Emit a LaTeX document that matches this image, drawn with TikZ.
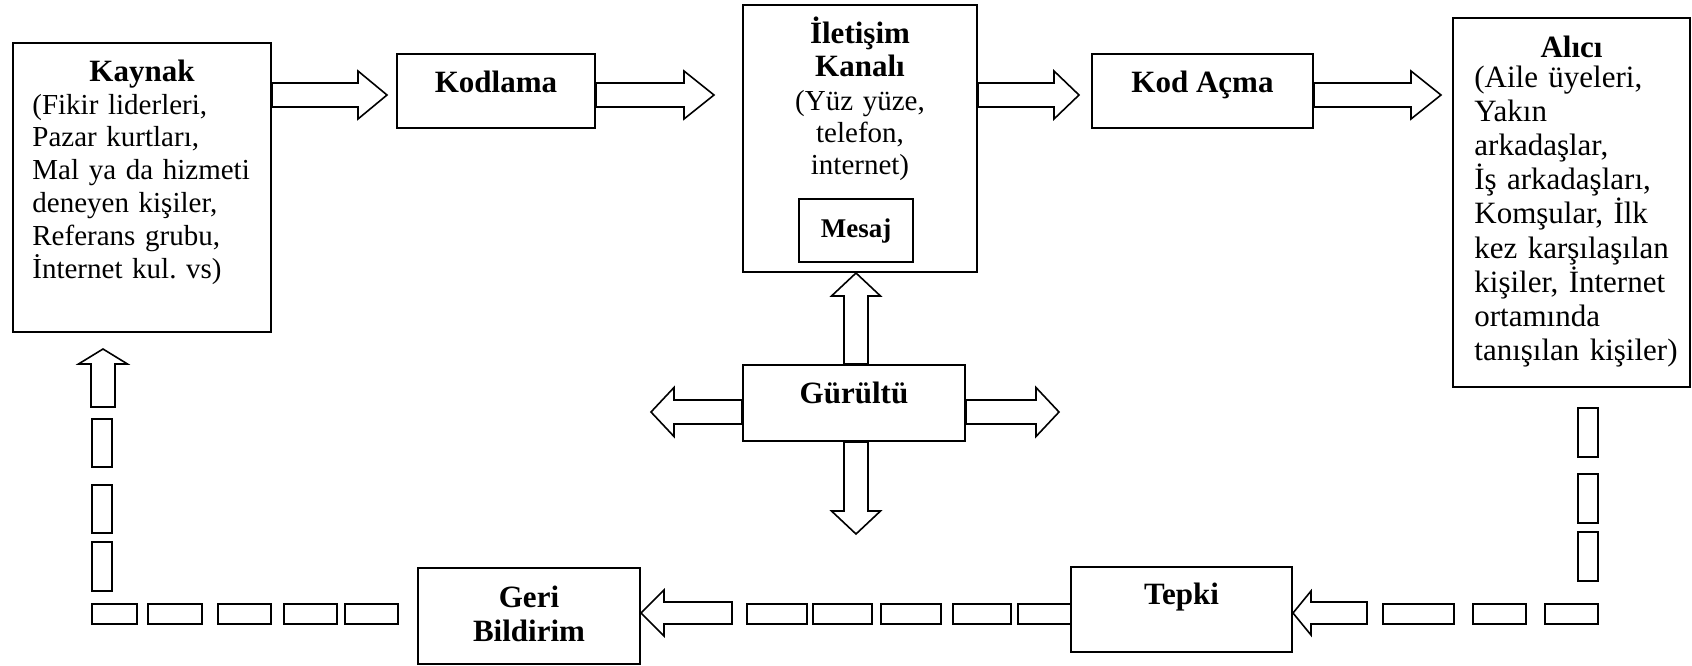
\documentclass[tikz,border=0pt]{standalone}
\usepackage{fontspec}
\setmainfont{Liberation Serif}
\usetikzlibrary{calc}
\frenchspacing

\tikzset{
  kutu/.style 2 args={draw, line width=1pt, minimum width=#1*0.5pt, minimum height=#2*0.5pt, inner sep=0pt},
  baslik/.style={font=\bfseries\fontsize{15.5}{16.5}\selectfont, inner sep=0pt, anchor=base, align=center},
  govde/.style={font=\fontsize{14.5}{16.4}\selectfont, inner sep=0pt, align=left},
  okcizgi/.style={draw, line width=0.8pt},
  parca/.style={draw, line width=0.8pt}
}

% kalin blok ok: baslangic, uc, govde yari genislik, bas yari genislik, bas boyu
\newcommand{\kalinok}[5]{%
  \coordinate (okb) at ($(#2)!#5!(#1)$);
  \draw[okcizgi] ($(#1)!#3!90:(#2)$) -- ($(okb)!#3!90:(#2)$) -- ($(okb)!#4!90:(#2)$) -- (#2)
    -- ($(okb)!#4!-90:(#2)$) -- ($(okb)!#3!-90:(#2)$) -- ($(#1)!#3!-90:(#2)$) -- cycle;}

\begin{document}
\begin{tikzpicture}[x=0.5pt, y=-0.5pt]
  \useasboundingbox (0,0) rectangle (1692,665);

  % kutular
  \node[kutu={258}{289}] (kaynak) at (142,187.5) {};
  \node[kutu={198}{74}] (kodlama) at (496,91) {};
  \node[kutu={234}{267}] (kanal) at (860,138.5) {};
  \node[kutu={114}{63}] (mesaj) at (856,230.5) {};
  \node[kutu={221}{74}] (kodacma) at (1202.5,91) {};
  \node[kutu={237}{369}] (alici) at (1571.5,202.5) {};
  \node[kutu={222}{76}] (gurultu) at (854,403) {};
  \node[kutu={221}{85}] (tepki) at (1181.5,609.5) {};
  \node[kutu={222}{96}] (geri) at (529,616) {};

  % yazilar
  \node[baslik] (kaynak-b) at (142,81) {Kaynak};
  \node[govde, anchor=base west, text width=122pt] (kaynak-m) at (32,114)
    {(Fikir liderleri,\\Pazar kurtları,\\Mal ya da hizmeti\\deneyen kişiler,\\Referans grubu,\\İnternet kul. vs)};
  \node[baslik] (kodlama-b) at (496,92) {Kodlama};
  \node[baslik, text width=100pt] (kanal-b) at (860,43) {İletişim\\Kanalı};
  \node[govde, font=\fontsize{14.5}{16}\selectfont, align=center, text width=100pt, anchor=base] (kanal-m) at (860,110)
    {(Yüz yüze,\\telefon,\\internet)};
  \node[baslik, font=\bfseries\fontsize{13.5}{15}\selectfont] (mesaj-b) at (856,237) {Mesaj};
  \node[baslik] (kodacma-b) at (1202.5,92) {Kod Açma};
  \node[baslik] (alici-b) at (1571.5,57) {Alıcı};
  \node[govde, font=\fontsize{15.5}{17.1}\selectfont, anchor=base west, text width=116pt] (alici-m) at (1474,87)
    {(Aile üyeleri,\\Yakın\\arkadaşlar,\\İş arkadaşları,\\Komşular, İlk\\kez karşılaşılan\\kişiler, İnternet\\ortamında\\tanışılan kişiler)};
  \node[baslik] (gurultu-b) at (854,403) {Gürültü};
  \node[baslik] (tepki-b) at (1181.5,604) {Tepki};
  \node[baslik, font=\bfseries\fontsize{15.5}{17}\selectfont, text width=100pt] (geri-b) at (529,607) {Geri\\Bildirim};

  % ust sira oklar
  \coordinate (ust) at (0,95);
  \coordinate (a1) at (kaynak.east |- ust);
  \coordinate (b1) at ($(kodlama.west |- ust)+(-9,0)$);
  \coordinate (a2) at (kodlama.east |- ust);
  \coordinate (b2) at ($(kanal.west |- ust)+(-28,0)$);
  \coordinate (a3) at (kanal.east |- ust);
  \coordinate (b3) at ($(kodacma.west |- ust)+(-12,0)$);
  \coordinate (a4) at (kodacma.east |- ust);
  \coordinate (b4) at ($(alici.west |- ust)+(-11,0)$);
  \kalinok{a1}{b1}{6pt}{12pt}{14.5pt}
  \kalinok{a2}{b2}{6pt}{12pt}{15pt}
  \kalinok{a3}{b3}{6pt}{12pt}{12.5pt}
  \kalinok{a4}{b4}{6pt}{12pt}{15pt}

  % gurultu oklari
  \coordinate (orta) at (0,412);
  \coordinate (g1) at (gurultu.north -| mesaj);
  \coordinate (g2) at (kanal.south -| mesaj);
  \coordinate (g3) at (gurultu.south -| mesaj);
  \coordinate (g4) at ($(g3)+(0,92)$);
  \coordinate (g5) at (gurultu.west |- orta);
  \coordinate (g6) at ($(g5)+(-91,0)$);
  \coordinate (g7) at (gurultu.east |- orta);
  \coordinate (g8) at ($(g7)+(93,0)$);
  \kalinok{g1}{g2}{6pt}{12.25pt}{11.5pt}
  \kalinok{g3}{g4}{6pt}{12.25pt}{11.5pt}
  \kalinok{g5}{g6}{6pt}{12.25pt}{11.5pt}
  \kalinok{g7}{g8}{6pt}{12.25pt}{11.5pt}

  % geri besleme yolu
  \coordinate (alt) at (0,613);
  \coordinate (t1) at (tepki.east |- alt);
  \coordinate (t0) at ($(t1)+(74,0)$);
  \coordinate (r1) at (geri.east |- alt);
  \coordinate (r0) at ($(r1)+(91,0)$);
  \coordinate (s0) at (103,407);
  \coordinate (s1) at (103,349);
  \kalinok{t0}{t1}{5.5pt}{11pt}{9pt}
  \kalinok{r0}{r1}{5.5pt}{11.5pt}{11.5pt}
  \kalinok{s0}{s1}{6pt}{12.25pt}{7.5pt}
  \foreach \a/\b in {92/137,148/202,218/271,284/337,345/398,747/807,813/872,881/941,953/1011,1018/1071,1383/1454,1473/1526,1545/1598}
    \draw[parca] (\a,604) rectangle (\b,624);
  \foreach \a/\b in {419/467,485/533,542/591}
    \draw[parca] (92,\a) rectangle (112,\b);
  \foreach \a/\b in {408/457,474/523,532/581}
    \draw[parca] (1578,\a) rectangle (1598,\b);
\end{tikzpicture}
\end{document}
